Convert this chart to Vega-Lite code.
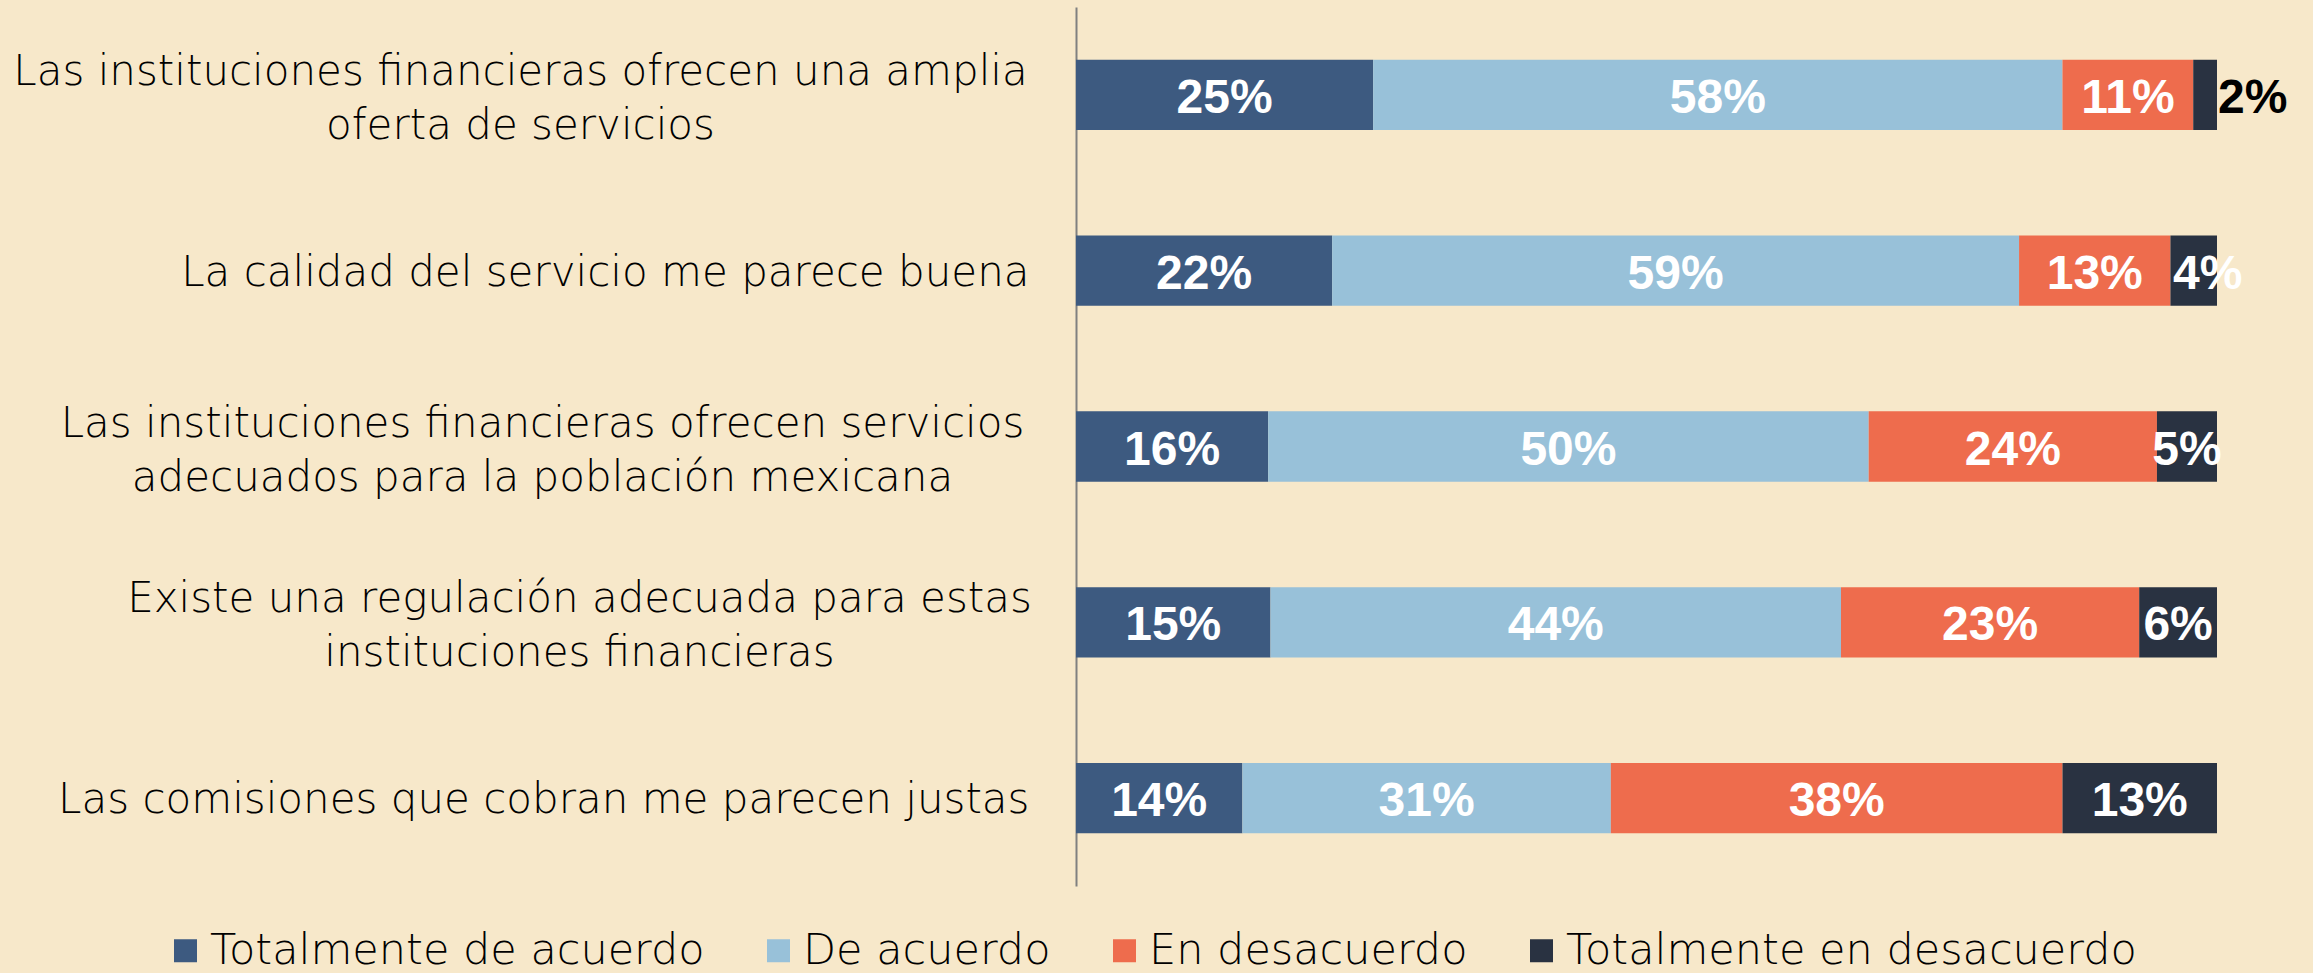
{
  "$schema": "https://vega.github.io/schema/vega-lite/v6.json",
  "width": 1141,
  "height": 879,
  "autosize": {"type": "none"},
  "padding": {"left": 1076, "top": 7, "right": 96, "bottom": 87},
  "background": "#F7E8CA",
  "config": {"view": {"stroke": null}},
  "data": {
    "values": [
      {"pregunta": "Las instituciones financieras ofrecen una amplia oferta de servicios", "respuesta": "Totalmente de acuerdo", "orden": 1, "valor": 0.25},
      {"pregunta": "Las instituciones financieras ofrecen una amplia oferta de servicios", "respuesta": "De acuerdo", "orden": 2, "valor": 0.58},
      {"pregunta": "Las instituciones financieras ofrecen una amplia oferta de servicios", "respuesta": "En desacuerdo", "orden": 3, "valor": 0.11},
      {"pregunta": "Las instituciones financieras ofrecen una amplia oferta de servicios", "respuesta": "Totalmente en desacuerdo", "orden": 4, "valor": 0.02},
      {"pregunta": "La calidad del servicio me parece buena", "respuesta": "Totalmente de acuerdo", "orden": 1, "valor": 0.22},
      {"pregunta": "La calidad del servicio me parece buena", "respuesta": "De acuerdo", "orden": 2, "valor": 0.59},
      {"pregunta": "La calidad del servicio me parece buena", "respuesta": "En desacuerdo", "orden": 3, "valor": 0.13},
      {"pregunta": "La calidad del servicio me parece buena", "respuesta": "Totalmente en desacuerdo", "orden": 4, "valor": 0.04},
      {"pregunta": "Las instituciones financieras ofrecen servicios adecuados para la población mexicana", "respuesta": "Totalmente de acuerdo", "orden": 1, "valor": 0.16},
      {"pregunta": "Las instituciones financieras ofrecen servicios adecuados para la población mexicana", "respuesta": "De acuerdo", "orden": 2, "valor": 0.50},
      {"pregunta": "Las instituciones financieras ofrecen servicios adecuados para la población mexicana", "respuesta": "En desacuerdo", "orden": 3, "valor": 0.24},
      {"pregunta": "Las instituciones financieras ofrecen servicios adecuados para la población mexicana", "respuesta": "Totalmente en desacuerdo", "orden": 4, "valor": 0.05},
      {"pregunta": "Existe una regulación adecuada para estas instituciones financieras", "respuesta": "Totalmente de acuerdo", "orden": 1, "valor": 0.15},
      {"pregunta": "Existe una regulación adecuada para estas instituciones financieras", "respuesta": "De acuerdo", "orden": 2, "valor": 0.44},
      {"pregunta": "Existe una regulación adecuada para estas instituciones financieras", "respuesta": "En desacuerdo", "orden": 3, "valor": 0.23},
      {"pregunta": "Existe una regulación adecuada para estas instituciones financieras", "respuesta": "Totalmente en desacuerdo", "orden": 4, "valor": 0.06},
      {"pregunta": "Las comisiones que cobran me parecen justas", "respuesta": "Totalmente de acuerdo", "orden": 1, "valor": 0.14},
      {"pregunta": "Las comisiones que cobran me parecen justas", "respuesta": "De acuerdo", "orden": 2, "valor": 0.31},
      {"pregunta": "Las comisiones que cobran me parecen justas", "respuesta": "En desacuerdo", "orden": 3, "valor": 0.38},
      {"pregunta": "Las comisiones que cobran me parecen justas", "respuesta": "Totalmente en desacuerdo", "orden": 4, "valor": 0.13}
    ]
  },
  "encoding": {
    "y": {
      "field": "pregunta",
      "type": "nominal",
      "sort": null,
      "scale": {"paddingInner": 0.6, "paddingOuter": 0.3},
      "axis": {
        "title": null,
        "ticks": false,
        "tickSize": 0,
        "domainColor": "#808080",
        "domainWidth": 2,
        "labelFont": "DejaVu Sans",
        "labelFontSize": 42,
        "labelFontWeight": 300,
        "labelColor": "#000000",
        "labelLimit": 1200,
        "labelLineHeight": 54,
        "labelBaseline": "middle",
        "labelExpr": "split(replace(replace(replace(datum.value, 'amplia ', 'amplia|'), 'servicios adecuados', 'servicios|adecuados'), 'estas ', 'estas|'), '|')",
        "labelAlign": {"condition": {"test": "indexof(datum.value,'amplia')>=0 || indexof(datum.value,'mexicana')>=0 || indexof(datum.value,'estas')>=0", "value": "center"}, "value": "right"},
        "labelOffset": {"condition": {"test": "indexof(datum.value,'amplia')>=0 || indexof(datum.value,'mexicana')>=0 || indexof(datum.value,'estas')>=0", "value": -23}, "value": 2},
        "labelPadding": {"condition": [
          {"test": "indexof(datum.value,'amplia')>=0", "value": 556},
          {"test": "indexof(datum.value,'mexicana')>=0", "value": 534},
          {"test": "indexof(datum.value,'estas')>=0", "value": 497}
        ], "value": 47}
      }
    },
    "order": {"field": "orden", "type": "quantitative"}
  },
  "layer": [
    {
      "mark": {"type": "bar"},
      "encoding": {
        "x": {"field": "valor", "type": "quantitative", "stack": "normalize", "axis": null, "scale": {"domain": [0, 1], "nice": false}},
        "color": {
          "field": "respuesta",
          "type": "nominal",
          "scale": {
            "domain": ["Totalmente de acuerdo", "De acuerdo", "En desacuerdo", "Totalmente en desacuerdo"],
            "range": ["#3D5A80", "#98C1D9", "#EE6C4D", "#293241"]
          },
          "legend": {
            "title": null,
            "orient": "none",
            "direction": "horizontal",
            "legendX": -912,
            "legendY": 922,
            "padding": 0,
            "symbolType": "square",
            "symbolSize": 529,
            "symbolStrokeWidth": 0,
            "symbolOpacity": 1,
            "labelFont": "DejaVu Sans",
            "labelFontSize": 43,
            "labelFontWeight": 300,
            "labelColor": "#000000",
            "labelLimit": 1000,
            "labelOffset": 3,
            "columnPadding": 52
          }
        }
      }
    },
    {
      "mark": {"type": "text", "color": "white", "font": "Liberation Sans", "fontWeight": "bold", "fontSize": 48, "baseline": "middle", "align": "center", "dy": 4},
      "encoding": {
        "x": {"field": "valor", "type": "quantitative", "stack": "normalize", "bandPosition": 0.5},
        "text": {"condition": {"test": "datum.valor < 0.045", "value": ""}, "field": "valor", "type": "quantitative", "format": ".0%"}
      }
    },
    {
      "mark": {"type": "text", "color": "white", "font": "Liberation Sans", "fontWeight": "bold", "fontSize": 48, "baseline": "middle", "align": "center", "dy": 4, "dx": 14},
      "encoding": {
        "x": {"field": "valor", "type": "quantitative", "stack": "normalize", "bandPosition": 0.5},
        "text": {"condition": {"test": "datum.valor == 0.04", "field": "valor", "type": "quantitative", "format": ".0%"}, "value": ""}
      }
    },
    {
      "mark": {"type": "text", "color": "black", "font": "Liberation Sans", "fontWeight": "bold", "fontSize": 48, "baseline": "middle", "align": "left", "dy": 4, "dx": 1},
      "encoding": {
        "x": {"field": "valor", "type": "quantitative", "stack": "normalize", "bandPosition": 1},
        "text": {"condition": {"test": "datum.valor == 0.02", "field": "valor", "type": "quantitative", "format": ".0%"}, "value": ""}
      }
    }
  ]
}
